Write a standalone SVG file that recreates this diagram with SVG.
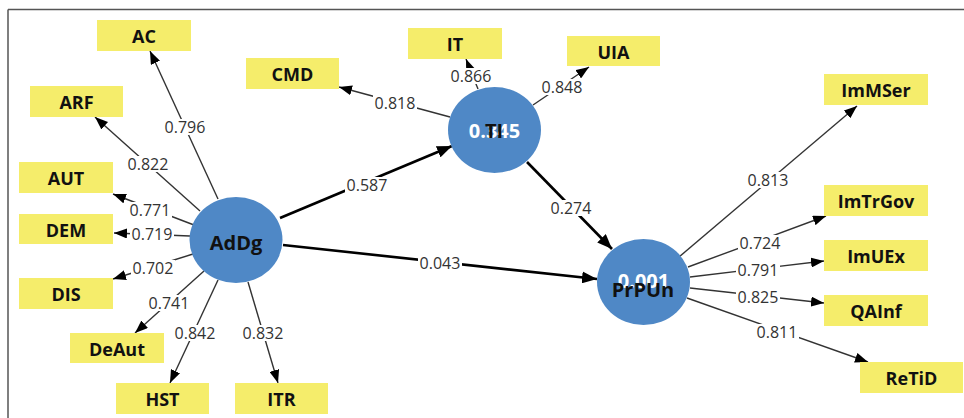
<svg xmlns="http://www.w3.org/2000/svg" width="964" height="418" viewBox="0 0 964 418">
<style>
.box{fill:#F5ED6B}
.bt{font-family:"Open Sans","Noto Sans",sans-serif;font-weight:bold;font-size:18px;fill:#111;text-anchor:middle;dominant-baseline:central}
.lv{fill:#4F88C6}
.lt{font-family:"Open Sans","Noto Sans",sans-serif;font-weight:bold;font-size:20px;fill:#111;text-anchor:middle;dominant-baseline:central}
.r2{font-family:"Open Sans","Noto Sans",sans-serif;font-weight:bold;font-size:20px;fill:#fff;text-anchor:middle;dominant-baseline:central}
.ln{stroke:#333;stroke-width:1.4;fill:none;marker-end:url(#a)}
.pl{stroke:#000;stroke-width:2.6;fill:none;marker-end:url(#b)}
.bg{fill:#fff}
.w{font-family:"Open Sans","Noto Sans",sans-serif;font-size:16px;fill:#333;text-anchor:middle;dominant-baseline:central}
</style>
<defs>
<marker id="a" markerUnits="userSpaceOnUse" markerWidth="14" markerHeight="10" refX="13" refY="5" orient="auto"><path d="M0,0 L13,5 L0,10 z" fill="#000"/></marker>
<marker id="b" markerUnits="userSpaceOnUse" markerWidth="16" markerHeight="12" refX="15" refY="6" orient="auto"><path d="M0,0 L15,6 L0,12 z" fill="#000"/></marker>
</defs>
<path d="M8,9.5 H964 M8,9.5 V418" stroke="#555" stroke-width="1.5" fill="none"/>
<g id="connectors">
<line class="ln" x1="218" y1="199" x2="150" y2="51"/>
<line class="ln" x1="200" y1="211" x2="95" y2="117"/>
<line class="ln" x1="194" y1="225" x2="113" y2="194"/>
<line class="ln" x1="190" y1="236" x2="114" y2="233"/>
<line class="ln" x1="193" y1="254" x2="113" y2="279"/>
<line class="ln" x1="204" y1="271" x2="135" y2="333"/>
<line class="ln" x1="218" y1="280" x2="170" y2="383"/>
<line class="ln" x1="248" y1="282" x2="278" y2="383"/>
<line class="ln" x1="450" y1="117" x2="339" y2="87"/>
<line class="ln" x1="478" y1="89" x2="466" y2="59"/>
<line class="ln" x1="533" y1="105" x2="589" y2="67"/>
<line class="ln" x1="679" y1="257" x2="857" y2="106"/>
<line class="ln" x1="688" y1="267" x2="826" y2="216"/>
<line class="ln" x1="690" y1="277" x2="824" y2="261"/>
<line class="ln" x1="690" y1="288" x2="824" y2="303"/>
<line class="ln" x1="687" y1="298" x2="868" y2="362"/>
<line class="pl" x1="280" y1="218" x2="452" y2="146"/>
<line class="pl" x1="283" y1="245" x2="597" y2="279"/>
<line class="pl" x1="527" y1="162" x2="612" y2="249"/>
<rect class="bg" x="163" y="119" width="44" height="16"/><text class="w" x="185" y="127">0.796</text>
<rect class="bg" x="126" y="156" width="44" height="16"/><text class="w" x="148" y="164">0.822</text>
<rect class="bg" x="128" y="202" width="44" height="16"/><text class="w" x="150" y="210">0.771</text>
<rect class="bg" x="130" y="226" width="44" height="16"/><text class="w" x="152" y="234">0.719</text>
<rect class="bg" x="131" y="260" width="44" height="16"/><text class="w" x="153" y="268">0.702</text>
<rect class="bg" x="147" y="295" width="44" height="16"/><text class="w" x="169" y="303">0.741</text>
<rect class="bg" x="173" y="325" width="44" height="16"/><text class="w" x="195" y="333">0.842</text>
<rect class="bg" x="241" y="325" width="44" height="16"/><text class="w" x="263" y="333">0.832</text>
<rect class="bg" x="373" y="95" width="44" height="16"/><text class="w" x="395" y="103">0.818</text>
<rect class="bg" x="449" y="68" width="44" height="16"/><text class="w" x="471" y="76">0.866</text>
<rect class="bg" x="540" y="79" width="44" height="16"/><text class="w" x="562" y="87">0.848</text>
<rect class="bg" x="345" y="177" width="44" height="16"/><text class="w" x="367" y="185">0.587</text>
<rect class="bg" x="418" y="255" width="44" height="16"/><text class="w" x="440" y="263">0.043</text>
<rect class="bg" x="549" y="200" width="44" height="16"/><text class="w" x="571" y="208">0.274</text>
<rect class="bg" x="746" y="172" width="44" height="16"/><text class="w" x="768" y="180">0.813</text>
<rect class="bg" x="738" y="235" width="44" height="16"/><text class="w" x="760" y="243">0.724</text>
<rect class="bg" x="736" y="262" width="44" height="16"/><text class="w" x="758" y="270">0.791</text>
<rect class="bg" x="736" y="289" width="44" height="16"/><text class="w" x="758" y="297">0.825</text>
<rect class="bg" x="755" y="324" width="44" height="16"/><text class="w" x="777" y="332">0.811</text>
</g>
<g id="AC"><rect class="box" x="97" y="20" width="94" height="31"/><text class="bt" x="144" y="36">AC</text></g>
<g id="ARF"><rect class="box" x="30" y="86" width="93" height="31"/><text class="bt" x="76.5" y="102">ARF</text></g>
<g id="AUT"><rect class="box" x="19" y="162" width="94" height="31"/><text class="bt" x="66" y="178">AUT</text></g>
<g id="DEM"><rect class="box" x="19" y="214" width="94" height="30"/><text class="bt" x="66" y="229.5">DEM</text></g>
<g id="DIS"><rect class="box" x="19" y="278" width="94" height="31"/><text class="bt" x="66" y="294">DIS</text></g>
<g id="DeAut"><rect class="box" x="70" y="333" width="94" height="30"/><text class="bt" x="117" y="348.5">DeAut</text></g>
<g id="HST"><rect class="box" x="116" y="383" width="93" height="31"/><text class="bt" x="162.5" y="399">HST</text></g>
<g id="ITR"><rect class="box" x="235" y="383" width="93" height="31"/><text class="bt" x="281.5" y="399">ITR</text></g>
<g id="CMD"><rect class="box" x="246" y="58" width="93" height="31"/><text class="bt" x="292.5" y="74">CMD</text></g>
<g id="IT"><rect class="box" x="408" y="28" width="94" height="31"/><text class="bt" x="455" y="44">IT</text></g>
<g id="UIA"><rect class="box" x="567" y="36" width="93" height="30"/><text class="bt" x="613.5" y="51.5">UIA</text></g>
<g id="ImMSer"><rect class="box" x="824" y="74" width="104" height="31"/><text class="bt" x="876" y="90">ImMSer</text></g>
<g id="ImTrGov"><rect class="box" x="824" y="185" width="104" height="31"/><text class="bt" x="876" y="201">ImTrGov</text></g>
<g id="ImUEx"><rect class="box" x="824" y="240" width="104" height="31"/><text class="bt" x="876" y="256">ImUEx</text></g>
<g id="QAInf"><rect class="box" x="824" y="295" width="104" height="31"/><text class="bt" x="876" y="311">QAInf</text></g>
<g id="ReTiD"><rect class="box" x="860" y="362" width="103" height="31"/><text class="bt" x="911.5" y="378">ReTiD</text></g>
<g id="AdDg"><ellipse class="lv" cx="236" cy="240" rx="46.5" ry="43"/><text class="lt" x="236" y="242">AdDg</text></g>
<g id="TI"><ellipse class="lv" cx="494.5" cy="130" rx="46.5" ry="43"/><text class="r2" x="494.5" y="130">0.345</text><text class="lt" x="494" y="130">TI</text></g>
<g id="PrPUn"><ellipse class="lv" cx="643.5" cy="282" rx="46.5" ry="43"/><text class="r2" x="643.5" y="280">0.001</text><text class="lt" x="643" y="289">PrPUn</text></g>
</svg>
